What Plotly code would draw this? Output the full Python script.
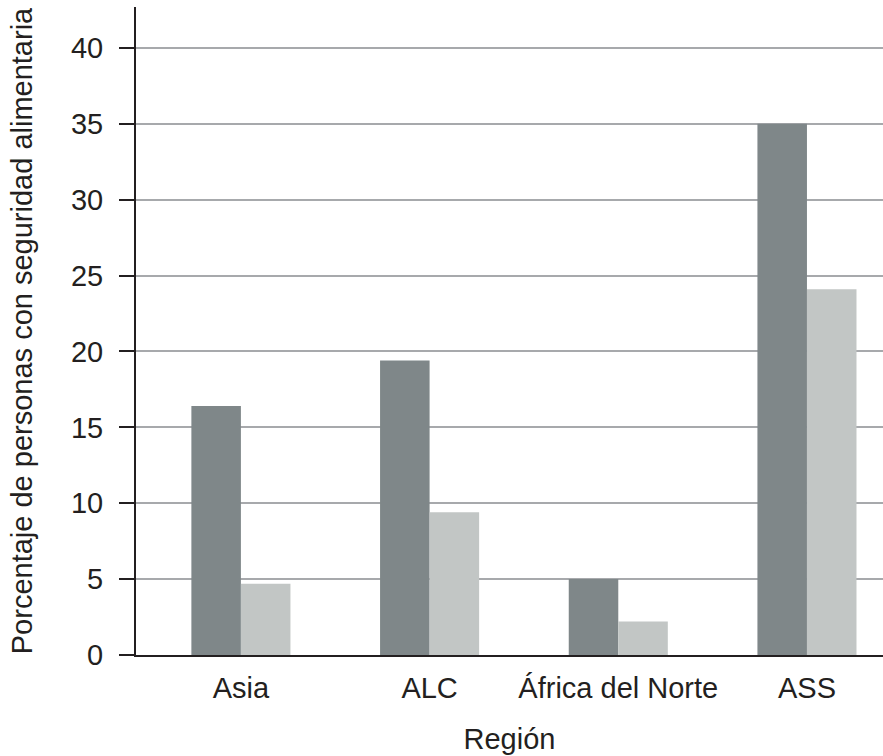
import plotly.graph_objects as go

categories = ["Asia", "ALC", "África del Norte", "ASS"]
serie_oscura = [16.4, 19.4, 5.0, 35.0]
serie_clara = [4.7, 9.4, 2.2, 24.1]
y_ticks = [0, 5, 10, 15, 20, 25, 30, 35, 40]

font_color = "#231f20"
fam = "Liberation Sans, Arial, sans-serif"
fs = 29

fig = go.Figure()
fig.add_trace(go.Bar(x=categories, y=serie_oscura, marker=dict(color="#7f8789", line=dict(width=0)), showlegend=False))
fig.add_trace(go.Bar(x=categories, y=serie_clara, marker=dict(color="#c2c6c5", line=dict(width=0)), showlegend=False))

fig.update_layout(
    width=883, height=756,
    margin=dict(l=136, r=0, t=7, b=101),
    paper_bgcolor="white", plot_bgcolor="white",
    barmode="group", bargap=0.475, bargroupgap=0,
    font=dict(family=fam, size=fs, color=font_color),
    xaxis=dict(
        type="category",
        range=[-0.556, 3.403],
        showline=True, linecolor=font_color, linewidth=2,
        ticks="", showgrid=False,
        ticklabelstandoff=6,
        title=dict(text="Región", standoff=26, font=dict(size=fs, color=font_color)),
        tickfont=dict(size=fs, color=font_color),
    ),
    yaxis=dict(
        range=[0, 42.7],
        tickvals=y_ticks,
        showline=True, linecolor=font_color, linewidth=2,
        ticks="outside", ticklen=15, tickwidth=2, tickcolor=font_color,
        showgrid=True, gridcolor="#a7a9ac", gridwidth=1.5,
        zeroline=False,
        ticklabelstandoff=10,
        title=dict(text="Porcentaje de personas con seguridad alimentaria", standoff=30,
                   font=dict(size=fs, color=font_color)),
        tickfont=dict(size=fs, color=font_color),
    ),
)

fig.write_html("out.html", config={"displayModeBar": False},
               post_script="document.body.style.margin='0';document.body.style.padding='0';")
